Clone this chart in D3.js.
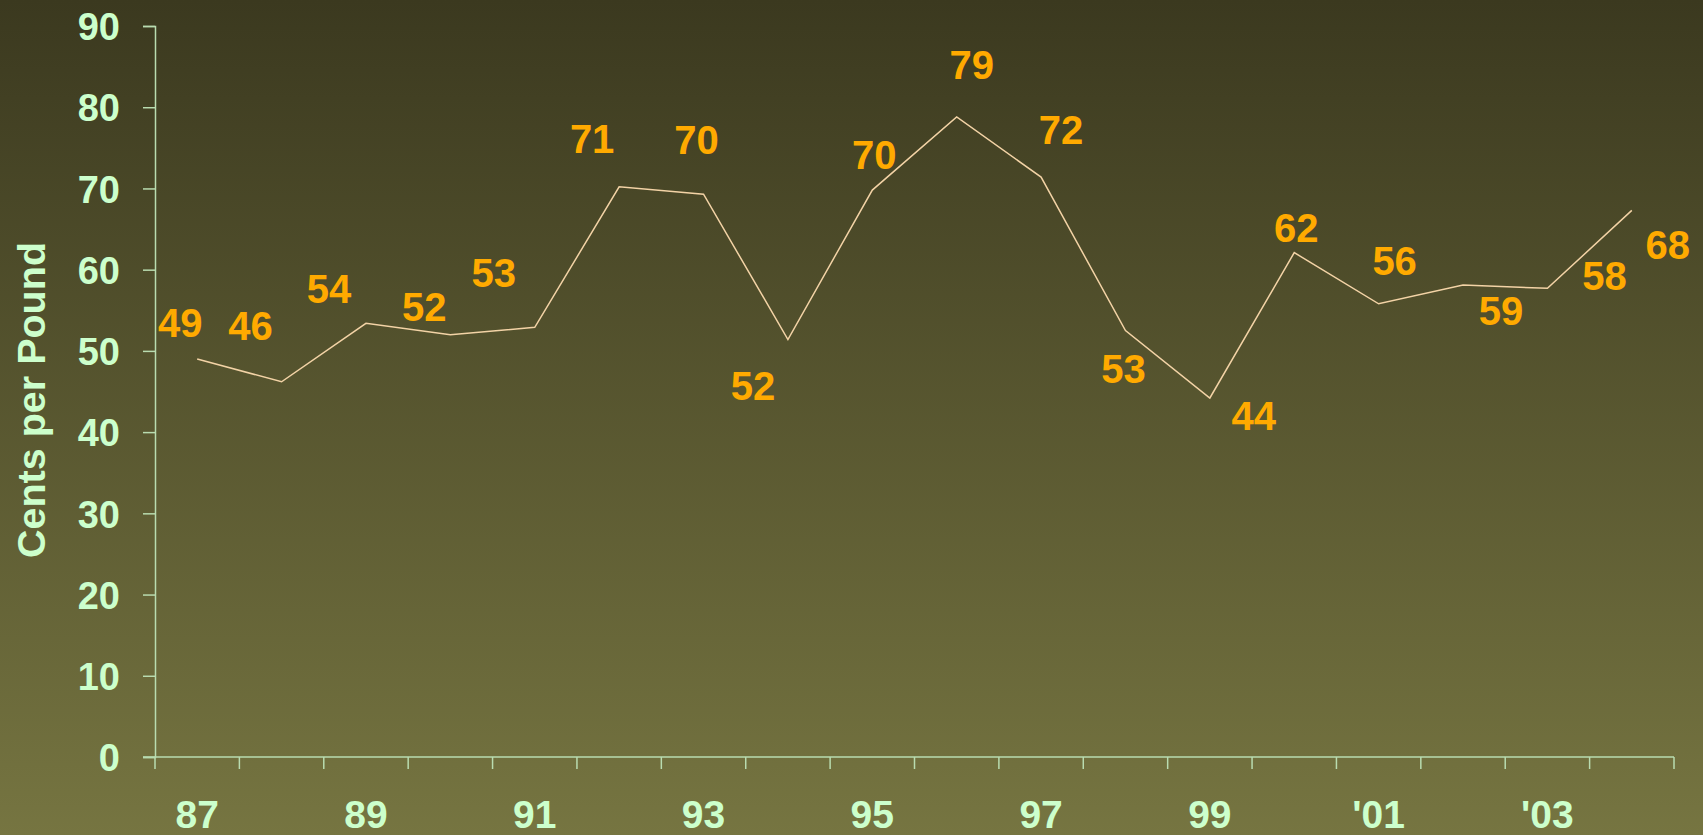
<!DOCTYPE html>
<html>
<head>
<meta charset="utf-8">
<script src="https://cdn.jsdelivr.net/npm/d3@7"></script>
<style>
  html, body { margin: 0; padding: 0; }
  body { width: 1703px; height: 835px; overflow: hidden; }
  svg { display: block; font-family: "Liberation Sans", Arial, sans-serif; font-weight: bold; }
</style>
</head>
<body>
<div id="chart"></div>
<script>
// Years shown on the axis (one category per year)
const years = ["87", "88", "89", "90", "91", "92", "93", "94", "95", "96",
               "97", "98", "99", "00", "'01", "'02", "'03", "'04"];
// Price in cents per pound, as drawn by the line
const prices = [49.0, 46.2, 53.4, 52.0, 52.9, 70.2, 69.3, 51.4, 69.8, 78.8,
                71.4, 52.5, 44.2, 62.1, 55.8, 58.1, 57.7, 67.3];
// Numbers printed next to the points
const labelText = ["49", "46", "54", "52", "53", "71", "70", "52", "70", "79",
                   "72", "53", "44", "62", "56", "59", "58", "68"];
// Where each printed number sits relative to its point (px)
const labelOffset = [[-17, -36], [-31, -56], [-37, -35], [-26, -28], [-41, -55],
                     [-27, -48], [-7, -55], [-35, 46], [2, -35], [15, -52],
                     [20, -47], [-2, 38], [44, 18], [2, -25], [16, -43],
                     [38, 26], [57, -13], [36, 34]];
const yTicks = [0, 10, 20, 30, 40, 50, 60, 70, 80, 90];
const shownYears = ["87", "89", "91", "93", "95", "97", "99", "'01", "'03"];

const width = 1703, height = 835;
const margin = { left: 155, right: 29, top: 26, bottom: 78 };

const svg = d3.select("#chart").append("svg")
    .attr("width", width)
    .attr("height", height);

// fond en dégradé
const grad = svg.append("defs").append("linearGradient")
    .attr("id", "bg").attr("x1", 0).attr("y1", 0).attr("x2", 0).attr("y2", 1);
grad.append("stop").attr("offset", "0%").attr("stop-color", "#3b391f");
grad.append("stop").attr("offset", "100%").attr("stop-color", "#767541");
svg.append("rect").attr("width", width).attr("height", height).attr("fill", "url(#bg)");

const x = d3.scaleBand()
    .domain(years)
    .range([margin.left, width - margin.right])
    .padding(0);

const y = d3.scaleLinear()
    .domain([0, 90])
    .range([height - margin.bottom, margin.top]);

const axisColor = "#b9dcb0";
const textColor = "#ccffcc";

// axe Y
const yAxis = svg.append("g")
    .attr("transform", `translate(${margin.left},0)`)
    .call(d3.axisLeft(y).tickValues(yTicks).tickSize(12).tickPadding(23));
yAxis.select(".domain").attr("stroke", axisColor).attr("stroke-width", 1.5);
yAxis.selectAll(".tick line").attr("stroke", axisColor).attr("stroke-width", 1.5);
yAxis.selectAll(".tick text")
    .attr("fill", textColor)
    .attr("font-size", 38)
    .attr("font-family", "Liberation Sans, Arial, sans-serif")
    .attr("font-weight", "bold")
    .attr("dy", "0.36em");

// axe X : graduations entre les catégories
const xAxis = svg.append("g")
    .attr("transform", `translate(0,${height - margin.bottom})`);
xAxis.append("line")
    .attr("x1", margin.left - 12).attr("x2", width - margin.right)
    .attr("stroke", axisColor).attr("stroke-width", 1.5);
const boundaries = years.map(d => x(d)).concat([x(years[years.length - 1]) + x.bandwidth()]);
xAxis.selectAll("line.tick")
    .data(boundaries)
    .enter().append("line")
    .attr("class", "tick")
    .attr("x1", d => d).attr("x2", d => d)
    .attr("y1", 0).attr("y2", 12)
    .attr("stroke", axisColor).attr("stroke-width", 1.5);
xAxis.selectAll("text")
    .data(shownYears)
    .enter().append("text")
    .attr("x", d => x(d) + x.bandwidth() / 2)
    .attr("y", 57)
    .attr("dy", "0.36em")
    .attr("text-anchor", "middle")
    .attr("fill", textColor)
    .attr("font-size", 39)
    .text(d => d);

// titre de l'axe Y
svg.append("text")
    .attr("transform", "translate(31,400) rotate(-90)")
    .attr("text-anchor", "middle")
    .attr("dy", "0.36em")
    .attr("fill", textColor)
    .attr("font-size", 39.5)
    .text("Cents per Pound");

// ligne des prix
const line = d3.line()
    .x((d, i) => x(years[i]) + x.bandwidth() / 2)
    .y(d => y(d));
svg.append("path")
    .datum(prices)
    .attr("d", line)
    .attr("fill", "none")
    .attr("stroke", "#f3d3a6")
    .attr("stroke-width", 1.5);

// étiquettes de valeurs
svg.selectAll("text.val")
    .data(prices)
    .enter().append("text")
    .attr("class", "val")
    .attr("x", (d, i) => x(years[i]) + x.bandwidth() / 2 + labelOffset[i][0])
    .attr("y", (d, i) => y(d) + labelOffset[i][1])
    .attr("dy", "0.36em")
    .attr("text-anchor", "middle")
    .attr("fill", "#ffaa00")
    .attr("font-size", 40)
    .text((d, i) => labelText[i]);
</script>
</body>
</html>
